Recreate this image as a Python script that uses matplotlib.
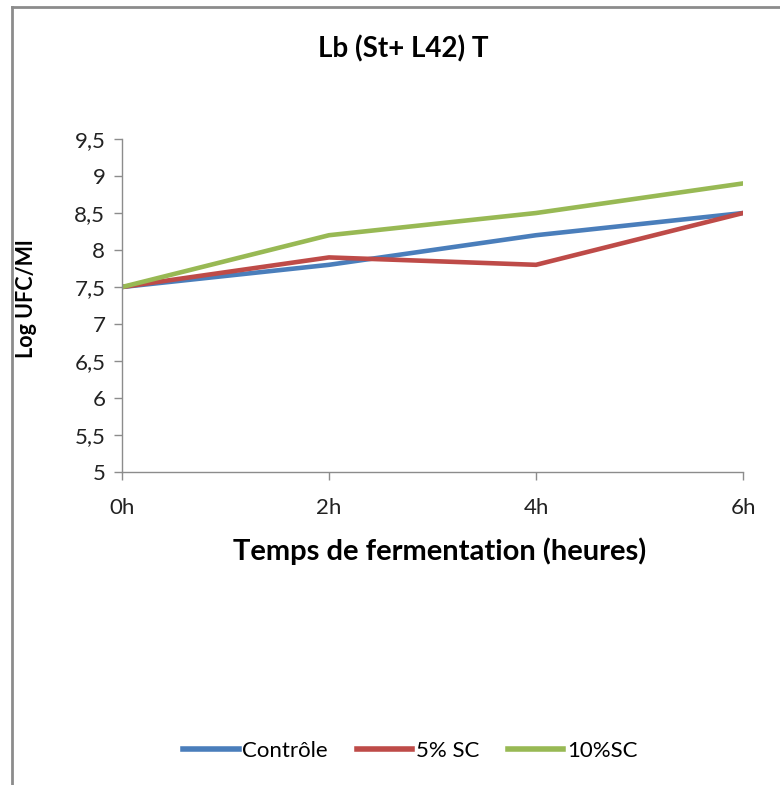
import matplotlib
matplotlib.use("Agg")
import matplotlib.pyplot as plt
from matplotlib.lines import Line2D
from matplotlib.ticker import FuncFormatter, MultipleLocator

plt.rcParams["font.family"] = ["Lato", "DejaVu Sans"]

# data
hours = ["0h", "2h", "4h", "6h"]
controle = [7.5, 7.8, 8.2, 8.5]
sc5 = [7.5, 7.9, 7.8, 8.5]
sc10 = [7.5, 8.2, 8.5, 8.9]
series_names = ["Contrôle", "5% SC", "10%SC"]
colors = ["#4A7EBB", "#BE4B48", "#98B954"]

fig = plt.figure(figsize=(7.8, 7.85), dpi=100)
ax = fig.add_axes([0.1564, 0.3987, 0.7962, 0.4242])

x = list(range(len(hours)))
for vals, name, col in zip([controle, sc5, sc10], series_names, colors):
    ax.plot(x, vals, color=col, lw=3.3, label=name, solid_capstyle="round")

ax.set_xlim(0, 3)
ax.set_ylim(5, 9.5)
ax.yaxis.set_major_locator(MultipleLocator(0.5))
ax.yaxis.set_major_formatter(
    FuncFormatter(lambda v, _: f"{v:g}".replace(".", ",")))
ax.set_xticks(x)
ax.set_xticklabels(hours)

for side in ("top", "right"):
    ax.spines[side].set_visible(False)
for side in ("left", "bottom"):
    ax.spines[side].set_color("#8C8C8C")
    ax.spines[side].set_linewidth(1.0)
ax.tick_params(axis="both", colors="#8C8C8C", length=6, width=1.0,
               labelcolor="#222222", labelsize=16)
ax.tick_params(axis="y", pad=6)
ax.tick_params(axis="x", pad=13)

ax.set_ylabel("Log UFC/Ml", fontsize=15.5, fontweight="bold")
ax.yaxis.set_label_coords(-0.137, 0.52)
ax.set_xlabel("Temps de fermentation (heures)", fontsize=21,
              fontweight="bold")
ax.xaxis.set_label_coords(0.512, -0.195)
fig.text(0.517, 0.938, "Lb (St+ L42) T", fontsize=20, fontweight="bold",
         ha="center", va="center")

handles = [Line2D([], [], color=c, lw=4) for c in colors]
fig.legend(handles, series_names, loc="center", bbox_to_anchor=(0.526, 0.043),
           ncol=3, frameon=False, fontsize=16, handlelength=2.5,
           handletextpad=0.15, columnspacing=1.3)

# outer chart-area frame (left and top edges visible)
fig.add_artist(Line2D([12 / 780, 12 / 780], [0, 1 - 7 / 785],
                      transform=fig.transFigure, color="#8C8C8C", lw=2))
fig.add_artist(Line2D([12 / 780, 1], [1 - 7 / 785, 1 - 7 / 785],
                      transform=fig.transFigure, color="#8C8C8C", lw=2))

fig.savefig("out.png", dpi=100, facecolor="white")
